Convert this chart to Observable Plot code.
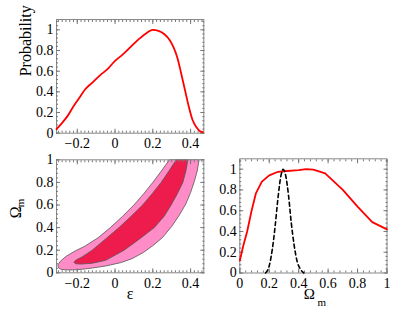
<!DOCTYPE html>
<html><head><meta charset="utf-8">
<script src="https://cdn.jsdelivr.net/npm/d3@7"></script>
<script src="https://cdn.jsdelivr.net/npm/@observablehq/plot@0.6"></script>
<style>
body{margin:0;background:#fff;}
#chart{position:relative;width:415px;height:316px;overflow:hidden;background:#fff;}
#chart svg{position:absolute;overflow:visible;background:transparent;}
#chart svg text{font-family:'Liberation Serif','DejaVu Serif',serif;}
</style></head><body><div id="chart"></div>
<script>
// ---- data ----
const epsTicks = [-0.2, 0, 0.2, 0.4];
const probTicks = [0, 0.2, 0.4, 0.6, 0.8, 1];
const omTicks = [0, 0.2, 0.4, 0.6, 0.8, 1];

// marginal probability of epsilon (top panel)
const epsX = [-0.31,-0.28,-0.25,-0.22,-0.19,-0.16,-0.12,-0.08,-0.04,0,0.04,0.08,0.12,0.16,0.2,0.23,0.26,0.29,0.31,0.33,0.35,0.37,0.39,0.41,0.43,0.45,0.465];
const epsP = [0.04,0.10,0.17,0.26,0.34,0.42,0.49,0.56,0.62,0.70,0.76,0.83,0.90,0.96,1.0,0.99,0.96,0.90,0.83,0.73,0.58,0.42,0.26,0.13,0.06,0.02,0.01];

// marginal probability of Omega_m (bottom right), solid red
const omX = [0,0.025,0.05,0.08,0.11,0.15,0.2,0.26,0.3,0.4,0.45,0.5,0.58,0.7,0.8,0.9,1.0];
const omP = [0.12,0.27,0.40,0.60,0.77,0.88,0.94,0.975,0.98,0.99,1.0,0.995,0.96,0.80,0.64,0.49,0.42];

// comparison curve (dashed black)
const omX2 = [0.175,0.20,0.22,0.24,0.26,0.28,0.295,0.31,0.33,0.35,0.37,0.39,0.41,0.435];
const omP2 = [0.0,0.07,0.22,0.45,0.73,0.94,1.0,0.95,0.76,0.48,0.26,0.11,0.04,0.0];

// outer contour: epsilon, Omega_m
const outerEps = [0.288,0.245,0.200,0.152,0.100,0.040,-0.025,-0.090,-0.160,-0.215,-0.260,-0.288,-0.303,-0.300,-0.285,-0.250,-0.200,-0.130,-0.050,0.030,0.090,0.150,0.200,0.250,0.300,0.340,0.375,0.400,0.420,0.435,0.445];
const outerOm  = [1.0,0.9,0.8,0.7,0.6,0.5,0.4,0.31,0.235,0.19,0.145,0.105,0.07,0.045,0.03,0.025,0.027,0.04,0.06,0.09,0.125,0.18,0.24,0.31,0.41,0.51,0.61,0.71,0.81,0.90,1.0];

// inner contour
const innerEps = [0.324,0.285,0.244,0.197,0.146,0.085,0.021,-0.050,-0.121,-0.175,-0.205,-0.218,-0.210,-0.180,-0.120,-0.050,0.048,0.130,0.208,0.260,0.297,0.330,0.359,0.375,0.386];
const innerOm  = [1.0,0.9,0.8,0.7,0.6,0.5,0.4,0.3,0.2,0.14,0.115,0.095,0.08,0.077,0.085,0.11,0.2,0.3,0.4,0.5,0.6,0.7,0.8,0.9,1.0];

// ---- helpers ----
const zip2 = (a, b) => a.map((v, i) => ({x: v, y: b[i]}));
const font = "'Liberation Serif','DejaVu Serif',serif";
const fmt = d3.format("~g");
function minors(dom, step) {
  const out = [];
  const s = Math.ceil(dom[0] / step - 1e-9), e = Math.floor(dom[1] / step + 1e-9);
  for (let i = s; i <= e; i++) out.push(+(i * step).toFixed(4));
  return out;
}
function frameMarks(xdom, ydom, xt, yt, xstep, ystep) {
  const c = "#777";
  const xm = minors(xdom, xstep), ym = minors(ydom, ystep);
  const blank = () => "";
  return [
    Plot.frame({stroke: "#888", strokeWidth: 1}),
    Plot.axisX(xt, {anchor: "bottom", tickSize: -4, tickFormat: blank, stroke: c, label: null}),
    Plot.axisX(xt, {anchor: "top", tickSize: -4, tickFormat: blank, stroke: c, label: null}),
    Plot.axisY(yt, {anchor: "left", tickSize: -4, tickFormat: blank, stroke: c, label: null}),
    Plot.axisY(yt, {anchor: "right", tickSize: -4, tickFormat: blank, stroke: c, label: null}),
    Plot.axisX(xm, {anchor: "bottom", tickSize: -2, tickFormat: blank, stroke: c, label: null}),
    Plot.axisX(xm, {anchor: "top", tickSize: -2, tickFormat: blank, stroke: c, label: null}),
    Plot.axisY(ym, {anchor: "left", tickSize: -2, tickFormat: blank, stroke: c, label: null}),
    Plot.axisY(ym, {anchor: "right", tickSize: -2, tickFormat: blank, stroke: c, label: null}),
    Plot.axisX(xt, {anchor: "bottom", tickSize: 0, tickPadding: 5, tickFormat: fmt, label: null, fill: "black", fontSize: 14}),
    Plot.axisY(yt, {anchor: "left", tickSize: 0, tickPadding: 3, tickFormat: fmt, label: null, fill: "black", fontSize: 14})
  ];
}
const style = {fontFamily: font, fontSize: "14px", background: "transparent", overflow: "visible", color: "black"};
const chart = document.getElementById("chart");
function place(svg, left, top) {
  svg.style.left = left + "px";
  svg.style.top = top + "px";
  chart.appendChild(svg);
}

// ---- top panel: P(epsilon) ----
const epsDom = [-0.31, 0.47];
const p1 = Plot.plot({
  width: 210, height: 155,
  marginLeft: 56, marginRight: 6.7, marginTop: 19, marginBottom: 22.3,
  style,
  x: {domain: epsDom, axis: null},
  y: {domain: [0, 1.1], axis: null},
  marks: [
    ...frameMarks(epsDom, [0, 1.1], epsTicks, probTicks, 0.02, 0.04),
    Plot.line(zip2(epsX, epsP), {x: "x", y: "y", stroke: "#ff0000", strokeWidth: 1.8, curve: "monotone-x"}),
    Plot.text(["Probability"], {frameAnchor: "left", dx: -31, rotate: -90, fontSize: 16, fill: "black"})
  ]
});
place(p1, 0, 0);

// ---- bottom left: contours ----
const p2 = Plot.plot({
  width: 210, height: 161,
  marginLeft: 56, marginRight: 6.7, marginTop: 4.3, marginBottom: 43.7,
  style,
  x: {domain: epsDom, axis: null},
  y: {domain: [0, 1], axis: null},
  marks: [
    Plot.line(zip2(outerEps, outerOm), {x: "x", y: "y", fill: "#ff8cc6", stroke: "#555", strokeWidth: 0.8, curve: "linear-closed", clip: true}),
    Plot.line(zip2(innerEps, innerOm), {x: "x", y: "y", fill: "#ee1c4c", stroke: "#555", strokeWidth: 0.8, curve: "linear-closed", clip: true}),
    ...frameMarks(epsDom, [0, 1], epsTicks, omTicks, 0.02, 0.04),
    Plot.text(["ε"], {frameAnchor: "bottom", dy: 26, fontSize: 16, fill: "black"}),
    Plot.text(["Ω"], {frameAnchor: "left", dx: -41, dy: 2, rotate: -90, fontSize: 16, fill: "black"}),
    Plot.text(["m"], {frameAnchor: "left", dx: -36, dy: -9, rotate: -90, fontSize: 11, fill: "black"})
  ]
});
place(p2, 0, 155);

// ---- bottom right: P(Omega_m) ----
const p3 = Plot.plot({
  width: 205, height: 176,
  marginLeft: 29.3, marginRight: 28.5, marginTop: 18.3, marginBottom: 43.5,
  style,
  x: {domain: [0, 1], axis: null},
  y: {domain: [0, 1.1], axis: null},
  marks: [
    ...frameMarks([0, 1], [0, 1.1], omTicks, probTicks, 0.04, 0.04),
    Plot.line(zip2(omX, omP), {x: "x", y: "y", stroke: "#ff0000", strokeWidth: 1.8}),
    Plot.line(zip2(omX2, omP2), {x: "x", y: "y", stroke: "black", strokeWidth: 1.6, strokeDasharray: "4,3", curve: "monotone-x"}),
    Plot.text(["Ω"], {frameAnchor: "bottom", dx: -4, dy: 26, fontSize: 15, fill: "black"}),
    Plot.text(["m"], {frameAnchor: "bottom", dx: 8.5, dy: 33, fontSize: 11, fill: "black"})
  ]
});
place(p3, 210, 140);
</script></body></html>
